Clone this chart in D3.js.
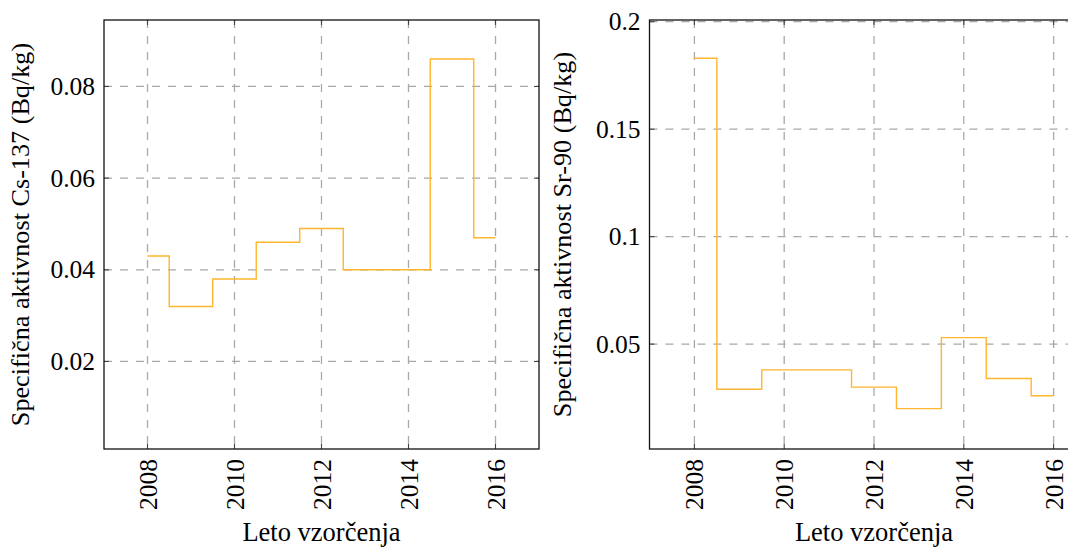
<!DOCTYPE html>
<html><head><meta charset="utf-8">
<script src="https://cdn.jsdelivr.net/npm/d3@7"></script>
<style>
body{margin:0;background:#fff;}
svg{display:block;}
</style></head>
<body>
<svg id="chart" width="1068" height="547"></svg>
<script>
const years = [2008, 2009, 2010, 2011, 2012, 2013, 2014, 2015, 2016];
const cs137 = [0.043, 0.032, 0.038, 0.046, 0.049, 0.040, 0.040, 0.086, 0.047];
const sr90 = [0.183, 0.029, 0.038, 0.038, 0.030, 0.020, 0.053, 0.034, 0.026];
const xTicks = [2008, 2010, 2012, 2014, 2016];
const csTicks = [0.02, 0.04, 0.06, 0.08];
const csTickLabels = ["0.02", "0.04", "0.06", "0.08"];
const srTicks = [0.05, 0.1, 0.15, 0.2];
const srTickLabels = ["0.05", "0.1", "0.15", "0.2"];
const xLabel = "Leto vzorčenja";
const csLabel = "Specifična aktivnost Cs-137 (Bq/kg)";
const srLabel = "Specifična aktivnost Sr-90 (Bq/kg)";

const FONT = "'Liberation Serif', 'Times New Roman', Tinos, 'DejaVu Serif', serif";
const svg = d3.select("#chart");

function panel(cfg) {
  const x = d3.scaleLinear().domain([2007, 2017]).range([cfg.left, cfg.right]);
  const y = d3.scaleLinear().domain(cfg.yDomain).range([449, 20]);
  const g = svg.append("g").attr("font-family", FONT);
  const top = 20, bottom = 449;
  const clipId = "clip" + cfg.id;
  g.append("clipPath").attr("id", clipId).append("rect")
    .attr("x", cfg.left).attr("y", top).attr("width", cfg.right - cfg.left).attr("height", bottom - top);

  // grid
  g.selectAll(".vg").data(xTicks).enter().append("line")
    .attr("x1", d => x(d)).attr("x2", d => x(d)).attr("y1", top).attr("y2", bottom)
    .attr("stroke", "#a8a8a8").attr("stroke-width", 1.3).attr("stroke-dasharray", "8,8");
  g.selectAll(".hg").data(cfg.yTicks).enter().append("line")
    .attr("x1", cfg.left).attr("x2", cfg.right).attr("y1", d => y(d)).attr("y2", d => y(d))
    .attr("stroke", "#a8a8a8").attr("stroke-width", 1.3).attr("stroke-dasharray", "8,8");

  // tick marks (inward, both sides)
  xTicks.forEach(t => {
    g.append("line").attr("x1", x(t)).attr("x2", x(t)).attr("y1", bottom).attr("y2", bottom - 5)
      .attr("stroke", "#444").attr("stroke-width", 1.1);
    g.append("line").attr("x1", x(t)).attr("x2", x(t)).attr("y1", top).attr("y2", top + 5)
      .attr("stroke", "#444").attr("stroke-width", 1.1);
  });
  cfg.yTicks.forEach(t => {
    g.append("line").attr("x1", cfg.left).attr("x2", cfg.left + 5).attr("y1", y(t)).attr("y2", y(t))
      .attr("stroke", "#444").attr("stroke-width", 1.1);
    g.append("line").attr("x1", cfg.right).attr("x2", cfg.right - 5).attr("y1", y(t)).attr("y2", y(t))
      .attr("stroke", "#444").attr("stroke-width", 1.1);
  });

  // data line
  const line = d3.line().x((d, i) => x(years[i])).y(d => y(d)).curve(d3.curveStep);
  g.append("path").datum(cfg.values).attr("d", line)
    .attr("fill", "none").attr("stroke", "#ffb52e").attr("stroke-width", 1.4)
    .attr("clip-path", "url(#" + clipId + ")");

  // frame
  g.append("rect").attr("x", cfg.left).attr("y", top).attr("width", cfg.right - cfg.left).attr("height", bottom - top)
    .attr("fill", "none").attr("stroke", "#111").attr("stroke-width", 1.3);

  // y tick labels
  g.selectAll(".yl").data(cfg.yTicks).enter().append("text")
    .attr("x", cfg.left - 9).attr("y", d => y(d)).attr("dy", "0.34em")
    .attr("text-anchor", "end").attr("font-size", 25.5).attr("fill", "#000")
    .text((d, i) => cfg.yTickLabels[i]);

  // x tick labels rotated
  g.selectAll(".xl").data(xTicks).enter().append("text")
    .attr("transform", d => `translate(${x(d) + 9},459) rotate(-90)`)
    .attr("text-anchor", "end").attr("font-size", 25.5).attr("fill", "#000")
    .text(d => d);

  // axis labels
  g.append("text").attr("x", (cfg.left + cfg.right) / 2).attr("y", 541)
    .attr("text-anchor", "middle").attr("font-size", 26.5).attr("fill", "#000").text(xLabel);
  g.append("text").attr("transform", `translate(${cfg.yLabelX},234.5) rotate(-90)`)
    .attr("text-anchor", "middle").attr("font-size", 26.2).attr("fill", "#000").text(cfg.yLabel);
}

panel({id: "a", left: 104, right: 539, yDomain: [0.0009, 0.0945], yTicks: csTicks,
  yTickLabels: csTickLabels, values: cs137, yLabel: csLabel, yLabelX: 29});
panel({id: "b", left: 649.5, right: 1098.5, yDomain: [0.0012, 0.2008], yTicks: srTicks,
  yTickLabels: srTickLabels, values: sr90, yLabel: srLabel, yLabelX: 571});
</script>
</body></html>
